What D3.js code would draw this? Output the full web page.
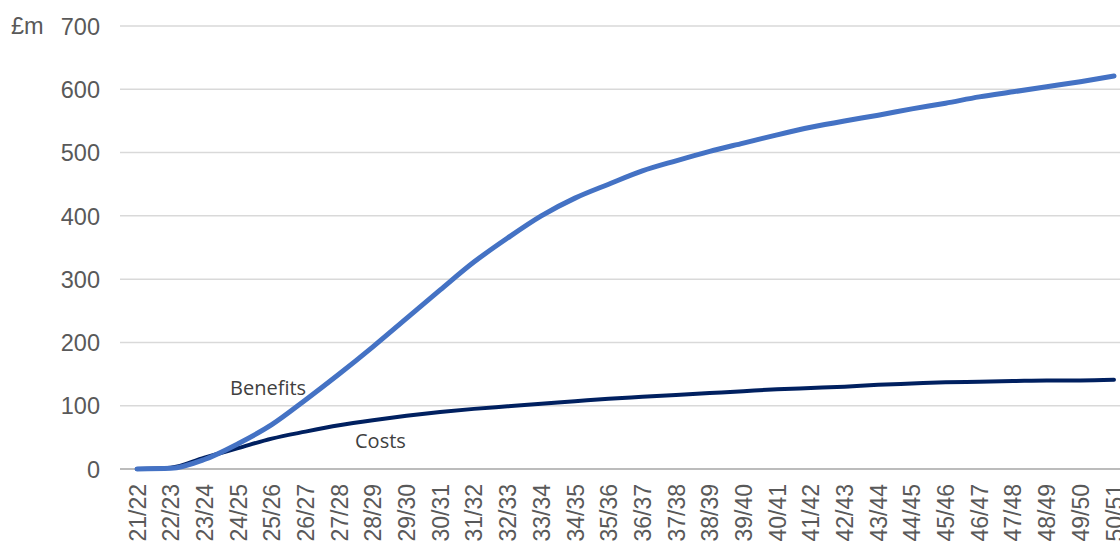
<!DOCTYPE html>
<html><head><meta charset="utf-8">
<script src="https://cdn.jsdelivr.net/npm/d3@7"></script>
<style>body{margin:0;background:#fff;}svg{display:block;}</style>
</head><body>
<svg id="c" width="1120" height="546"></svg>
<script>
const categories = ["21/22","22/23","23/24","24/25","25/26","26/27","27/28","28/29","29/30","30/31","31/32","32/33","33/34","34/35","35/36","36/37","37/38","38/39","39/40","40/41","41/42","42/43","43/44","44/45","45/46","46/47","47/48","48/49","49/50","50/51"];
const benefits = [0,1,15,40,70,109,150,193,238,283,327,365,400,428,450,471,487,502,515,528,540,550,559,569,578,588,596,604,612,621];
const costs = [0,2,18,33,48,59,69,77,84,90,95,99,103,107,111,114,117,120,123,126,128,130,133,135,137,138,139,140,140,141];
const yTicks = [0,100,200,300,400,500,600,700];
const unitLabel = "£m";

const svg = d3.select("#c");
const x = d3.scalePoint().domain(categories).range([137, 1114]);
const y = d3.scaleLinear().domain([0,700]).range([469, 26]);

svg.append("g").selectAll("line").data(yTicks.filter(d=>d>0)).join("line")
  .attr("x1",120).attr("x2",1120).attr("y1",d=>y(d)).attr("y2",d=>y(d))
  .attr("stroke","#d9d9d9").attr("stroke-width",1.5);

const yAxis = d3.axisLeft(y).tickValues(yTicks).tickSize(0).tickPadding(0);
const ya = svg.append("g").attr("transform","translate(100,0)").call(yAxis);
ya.select(".domain").remove();
ya.selectAll("text").attr("font-family","Liberation Sans, Arial, sans-serif").attr("font-size",23.5).attr("fill","#595959").attr("dy","0.35em");

svg.append("text").attr("x",11).attr("y",y(700)).attr("dy","0.35em")
  .attr("font-family","Liberation Sans, Arial, sans-serif").attr("font-size",23.5).attr("fill","#595959").text(unitLabel);

const xAxis = d3.axisBottom(x).tickSize(0).tickPadding(0);
const xa = svg.append("g").attr("transform",`translate(0,${y(0)})`).call(xAxis);
xa.select(".domain").remove();
xa.selectAll("text")
  .attr("font-family","Liberation Sans, Arial, sans-serif").attr("font-size",23).attr("fill","#595959")
  .attr("transform","rotate(-90)").attr("text-anchor","end").attr("x",-15).attr("y",0).attr("dy","0.35em");
svg.append("line").attr("x1",120).attr("x2",1120).attr("y1",y(0)).attr("y2",y(0))
  .attr("stroke","#a6a6a6").attr("stroke-width",1.5);

const line = d3.line().x((d,i)=>x(categories[i])).y(d=>y(d)).curve(d3.curveMonotoneX);
svg.append("path").datum(costs).attr("d",line).attr("fill","none").attr("stroke","#002060").attr("stroke-width",4).attr("stroke-linecap","round");
svg.append("path").datum(benefits).attr("d",line).attr("fill","none").attr("stroke","#4472C4").attr("stroke-width",5).attr("stroke-linecap","round");

svg.append("text").attr("x",230).attr("y",395).attr("font-family","Open Sans, Liberation Sans, sans-serif").attr("font-size",20).attr("fill","#404040").text("Benefits");
svg.append("text").attr("x",355).attr("y",448).attr("font-family","Open Sans, Liberation Sans, sans-serif").attr("font-size",20).attr("fill","#404040").text("Costs");
</script>
</body></html>
